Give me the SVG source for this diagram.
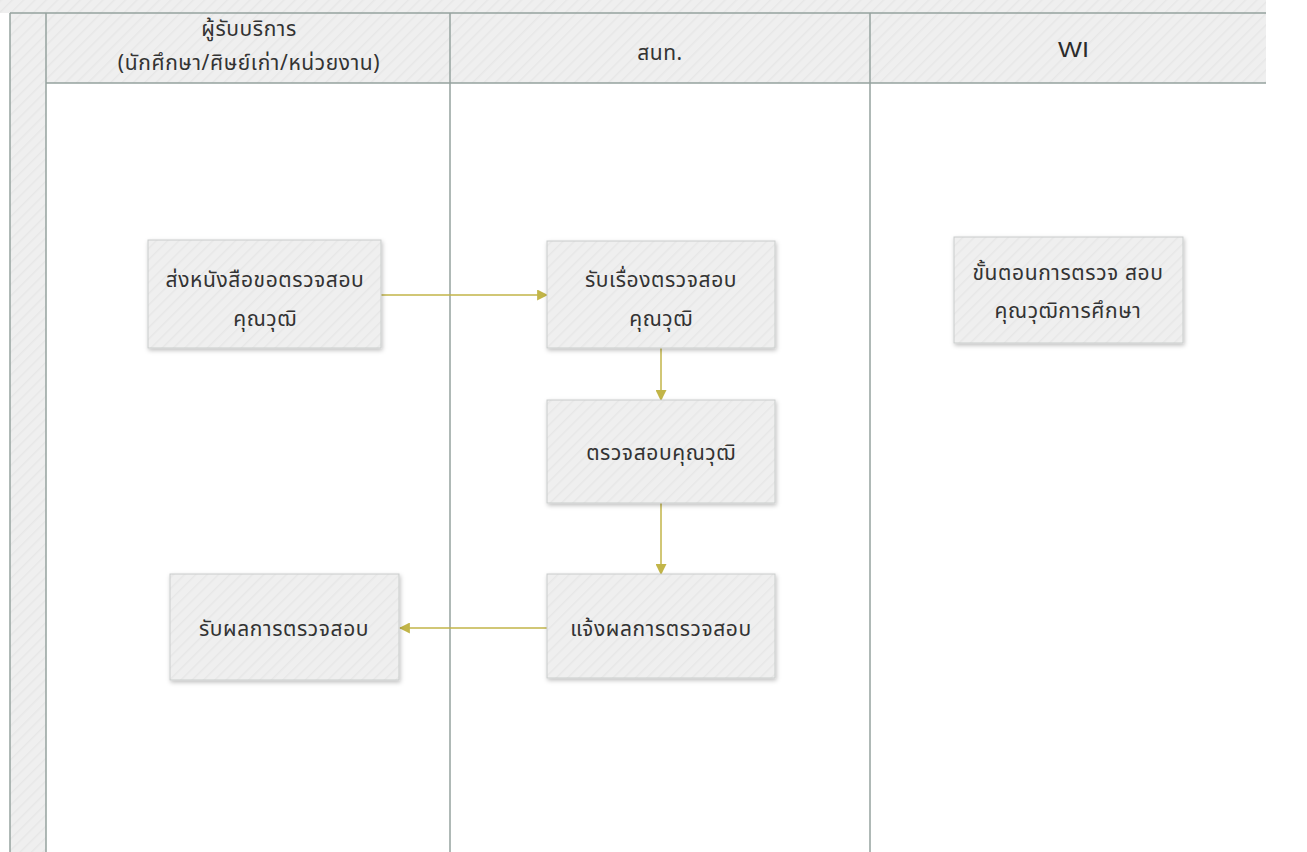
<svg xmlns="http://www.w3.org/2000/svg" width="1307" height="852" viewBox="0 0 1307 852">
<style>
.hdr{fill:url(#hatch)}
.ln{stroke:#94a29e;stroke-width:1.5;fill:none}
.box{fill:url(#hatch);stroke:#c9cccb;stroke-width:1}
.t{font-family:"Noto Sans Thai","Tahoma","Noto Sans","DejaVu Sans",sans-serif;font-size:21px;letter-spacing:0.6px;fill:#333;text-anchor:middle}
.w{font-family:"Liberation Sans",Arial,sans-serif;font-size:22px;fill:#2b2b2b}
.conn{stroke:#c2b548;stroke-width:1.5;fill:none;marker-end:url(#arr)}
</style>
<defs>
<pattern id="hatch" patternUnits="userSpaceOnUse" width="8" height="8" patternTransform="rotate(45)">
<rect width="8" height="8" fill="#efefef"/>
<line x1="0" y1="0" x2="0" y2="8" stroke="#e7e7e7" stroke-width="3"/>
</pattern>
<marker id="arr" viewBox="0 0 10 10" refX="9" refY="5" markerWidth="11" markerHeight="11" markerUnits="userSpaceOnUse" orient="auto">
<path d="M0,0 L10,5 L0,10 z" fill="#c2b548"/>
</marker>
<filter id="sh" x="-10%" y="-10%" width="125%" height="130%">
<feDropShadow dx="1" dy="2" stdDeviation="2" flood-color="#000" flood-opacity="0.25"/>
</filter>
</defs>
<rect width="1307" height="852" fill="#ffffff"/>
<g id="pool">
<rect x="0" y="0" width="1266" height="13" class="hdr"/>
<rect x="10" y="13" width="36" height="839" class="hdr"/>
<rect x="46" y="13" width="1220" height="70" class="hdr"/>
<line x1="10" y1="13" x2="1266" y2="13" class="ln"/>
<line x1="10" y1="13" x2="10" y2="852" class="ln"/>
<line x1="46" y1="13" x2="46" y2="852" class="ln"/>
<line x1="46" y1="83" x2="1266" y2="83" class="ln"/>
<line x1="450" y1="13" x2="450" y2="852" class="ln"/>
<line x1="870" y1="13" x2="870" y2="852" class="ln"/>
</g>
<g id="lane1"><text class="t" x="249" y="36">ผู้รับบริการ</text><text class="t" x="249" y="70">(นักศึกษา/ศิษย์เก่า/หน่วยงาน)</text></g>
<g id="lane2"><text class="t" x="660" y="60">สนท.</text></g>
<g id="lane3"><text class="w" x="1058" y="57" textLength="31" lengthAdjust="spacingAndGlyphs">WI</text></g>
<g id="connectors">
<line x1="381" y1="295" x2="547" y2="295" class="conn"/>
<line x1="661" y1="348" x2="661" y2="400" class="conn"/>
<line x1="661" y1="503" x2="661" y2="574" class="conn"/>
<line x1="547" y1="628" x2="400" y2="628" class="conn"/>
</g>
<g id="n1"><rect x="148" y="240" width="233" height="108" class="box" filter="url(#sh)"/><text class="t" x="265" y="287">ส่งหนังสือขอตรวจสอบ</text><text class="t" x="265" y="326">คุณวุฒิ</text></g>
<g id="n2"><rect x="547" y="241" width="228" height="107" class="box" filter="url(#sh)"/><text class="t" x="661" y="287">รับเรื่องตรวจสอบ</text><text class="t" x="661" y="326">คุณวุฒิ</text></g>
<g id="n3"><rect x="547" y="400" width="228" height="103" class="box" filter="url(#sh)"/><text class="t" x="661" y="460">ตรวจสอบคุณวุฒิ</text></g>
<g id="n4"><rect x="547" y="574" width="228" height="104" class="box" filter="url(#sh)"/><text class="t" x="661" y="636">แจ้งผลการตรวจสอบ</text></g>
<g id="n5"><rect x="170" y="574" width="229" height="106" class="box" filter="url(#sh)"/><text class="t" x="284" y="636">รับผลการตรวจสอบ</text></g>
<g id="n6"><rect x="954" y="237" width="229" height="106" class="box" filter="url(#sh)"/><text class="t" x="1068" y="280">ขั้นตอนการตรวจ สอบ</text><text class="t" x="1068" y="318">คุณวุฒิการศึกษา</text></g>
</svg>
